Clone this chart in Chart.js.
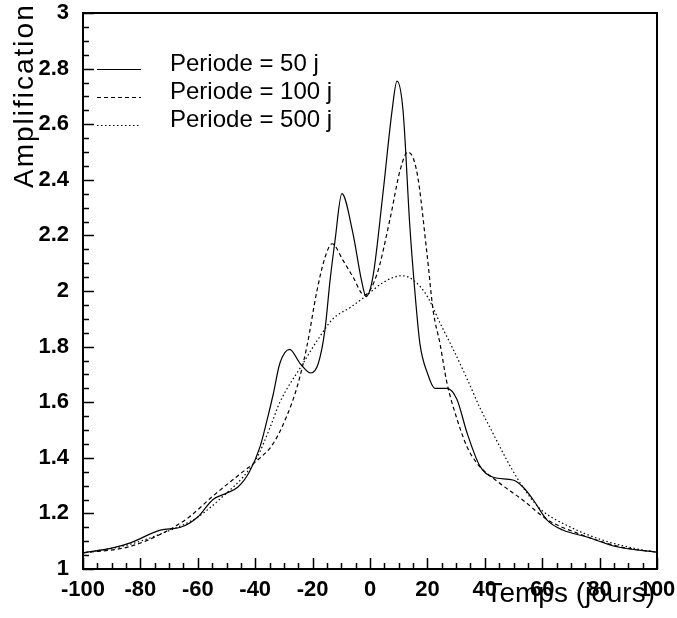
<!DOCTYPE html>
<html>
<head>
  <title>Amplification</title>
  <style>
    body { margin: 0; background: #fff; }
    #wrap { width: 677px; height: 618px; }
  </style>
</head>
<body>
  <div id="wrap"><canvas id="ampChart" width="677" height="618"></canvas></div>

  <script src="https://cdn.jsdelivr.net/npm/chart.js"></script>
  <script>
    // values
    const labels = ["Periode = 50 j", "Periode = 100 j", "Periode = 500 j"];

    const t50 = [-100, -90, -83.5, -73, -66, -60, -54.7, -50, -46, -42, -38.3, -36, -33.8, -31.4, -28, -24.4, -20.6, -18, -15.7, -13.9, -12.2, -9.8, -6, -3, -1.4, 1, 4.5, 7.7, 9.4, 11.5, 13.9, 15.7, 17.4, 20, 22.6, 26.8, 30.3, 33.8, 38.3, 42.9, 49.8, 53.3, 56.8, 61.7, 67.2, 75.6, 86, 100];
    const a50 = [1.058, 1.075, 1.094, 1.14, 1.15, 1.187, 1.25, 1.273, 1.295, 1.35, 1.44, 1.53, 1.625, 1.74, 1.79, 1.74, 1.705, 1.74, 1.86, 2.04, 2.18, 2.35, 2.21, 2.04, 1.98, 2.05, 2.35, 2.65, 2.755, 2.65, 2.23, 1.99, 1.81, 1.705, 1.65, 1.65, 1.61, 1.49, 1.37, 1.33, 1.32, 1.295, 1.25, 1.176, 1.14, 1.115, 1.08, 1.061];

    const t100 = [-100, -84, -72, -63, -55, -45.5, -39.4, -33.8, -29, -25.4, -22, -18.5, -15.7, -13.2, -9.4, -5.9, -2, 2.4, 7, 10.5, 13.2, 16.4, 19.9, 22, 24.4, 26.8, 30.3, 33.8, 37.3, 45, 53, 62, 72, 87, 100];
    const a100 = [1.058, 1.08, 1.13, 1.187, 1.26, 1.34, 1.39, 1.45, 1.55, 1.655, 1.80, 2.00, 2.12, 2.17, 2.11, 2.05, 1.985, 2.06, 2.26, 2.435, 2.50, 2.425, 2.13, 1.93, 1.81, 1.67, 1.54, 1.44, 1.38, 1.31, 1.25, 1.176, 1.13, 1.08, 1.06];

    const t500 = [-100, -85, -72, -60, -50, -44.3, -39.4, -34.8, -31.4, -23.3, -18.5, -12.9, -7, -1.7, 4.5, 11, 15, 20, 24.4, 29, 34, 38.3, 43, 47.5, 52, 56, 60, 70, 81, 95, 100];
    const a500 = [1.058, 1.085, 1.13, 1.187, 1.273, 1.33, 1.40, 1.51, 1.60, 1.74, 1.82, 1.90, 1.94, 1.98, 2.03, 2.055, 2.04, 1.98, 1.885, 1.79, 1.68, 1.58, 1.485, 1.395, 1.315, 1.255, 1.21, 1.15, 1.104, 1.068, 1.06];

    const toPoints = (ts, as) => ts.map((t, i) => ({ x: t, y: as[i] }));
    const FONT = "'Liberation Sans', Arial, sans-serif";

    const frameAndTicks = {
      id: "frameAndTicks",
      afterDraw(chart) {
        const ctx = chart.ctx;
        const area = chart.chartArea;
        const xs = chart.scales.x, ys = chart.scales.y;
        ctx.save();
        ctx.strokeStyle = "#000";
        ctx.lineWidth = 2;
        ctx.strokeRect(area.left, area.top, area.right - area.left, area.bottom - area.top);

        // inward ticks
        ctx.lineWidth = 1.5;
        ctx.beginPath();
        for (let v = -100; v <= 100; v += 5) {
          const px = Math.round(xs.getPixelForValue(v)) + 0.5;
          const len = v % 20 === 0 ? 11 : 6;
          ctx.moveTo(px, area.bottom);
          ctx.lineTo(px, area.bottom - len);
        }
        for (let i = 0; i <= 40; i++) {
          const py = Math.round(ys.getPixelForValue(1 + i * 0.05)) + 0.5;
          const len = i % 4 === 0 ? 11 : 6;
          ctx.moveTo(area.left, py);
          ctx.lineTo(area.left + len, py);
        }
        ctx.stroke();

        // axis titles
        ctx.fillStyle = "#000";
        ctx.font = "28px " + FONT;
        ctx.textAlign = "right";
        ctx.textBaseline = "alphabetic";
        ctx.fillText("Temps (jours)", 655, 602);
        ctx.save();
        ctx.translate(33, 188);
        ctx.rotate(-Math.PI / 2);
        ctx.textAlign = "left";
        ctx.letterSpacing = "2px";
        ctx.fillText("Amplification", 0, 0);
        ctx.restore();

        // legend
        ctx.font = "24px " + FONT;
        ctx.textAlign = "left";
        ctx.textBaseline = "middle";
        chart.data.datasets.forEach((ds, i) => {
          const y = 69 + 28 * i;
          ctx.beginPath();
          ctx.lineWidth = ds.borderWidth;
          ctx.setLineDash(ds.borderDash || []);
          ctx.moveTo(97, y + 0.5);
          ctx.lineTo(141, y + 0.5);
          ctx.stroke();
          ctx.setLineDash([]);
          ctx.fillText(ds.label, 170, y - 5);
        });
        ctx.restore();
      }
    };

    new Chart(document.getElementById("ampChart").getContext("2d"), {
      type: "scatter",
      data: {
        datasets: [
          { label: labels[0], data: toPoints(t50, a50), borderColor: "#000", borderWidth: 1.2, borderDash: [] },
          { label: labels[1], data: toPoints(t100, a100), borderColor: "#000", borderWidth: 1.2, borderDash: [4, 3] },
          { label: labels[2], data: toPoints(t500, a500), borderColor: "#000", borderWidth: 1.2, borderDash: [1.5, 2.5] }
        ].map(d => Object.assign(d, { showLine: true, pointRadius: 0, cubicInterpolationMode: "monotone", fill: false }))
      },
      options: {
        responsive: false,
        animation: false,
        layout: { padding: { left: 0, right: 20, top: 13, bottom: 0 } },
        plugins: { legend: { display: false }, tooltip: { enabled: false } },
        scales: {
          x: {
            type: "linear", min: -100, max: 100,
            grid: { display: false, drawTicks: false },
            border: { display: false },
            ticks: { stepSize: 20, autoSkip: false, maxRotation: 0, padding: 8, color: "#000",
                     font: { family: FONT, size: 22, weight: "bold" } },
            afterFit: s => { s.height = 49; s.paddingLeft = 0; s.paddingRight = 0; }
          },
          y: {
            type: "linear", min: 1, max: 3,
            grid: { display: false, drawTicks: false },
            border: { display: false },
            ticks: { stepSize: 0.2, padding: 14, color: "#000",
                     font: { family: FONT, size: 22, weight: "bold" },
                     callback: v => String(Number(v.toFixed(2))) },
            afterFit: s => { s.width = 83; s.paddingTop = 0; s.paddingBottom = 0; }
          }
        }
      },
      plugins: [frameAndTicks]
    });
  </script>
</body>
</html>
